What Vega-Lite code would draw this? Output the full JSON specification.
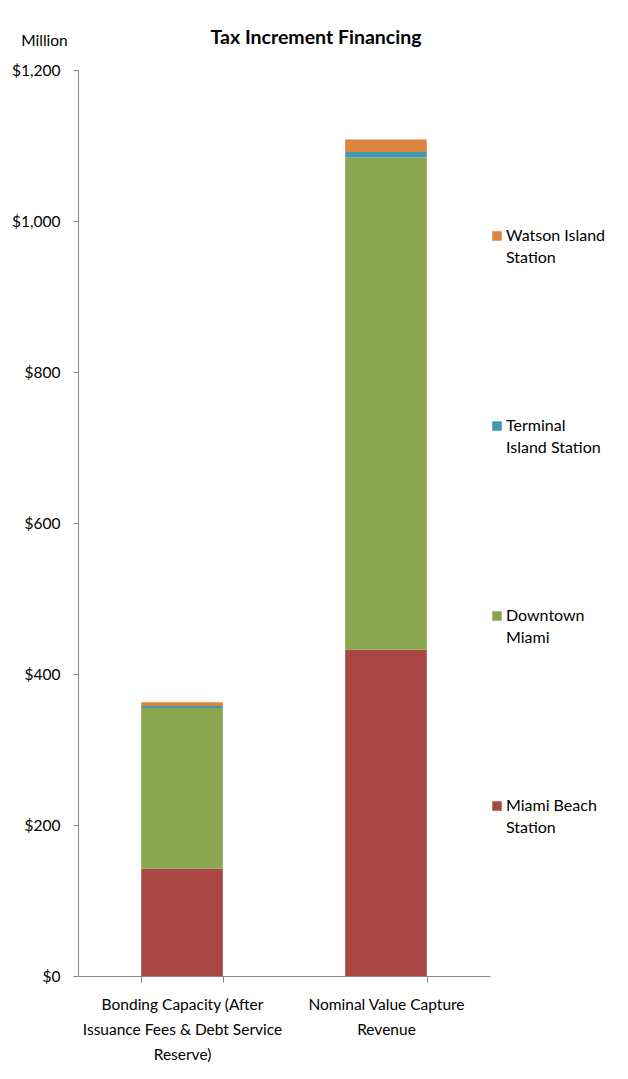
{
  "$schema": "https://vega.github.io/schema/vega-lite/v6.json",
  "autosize": {"type": "none"},
  "padding": {"left": 78, "top": 70, "right": 138, "bottom": 103},
  "width": 412,
  "height": 906,
  "title": {
    "text": "Tax Increment Financing",
    "font": "Lato",
    "fontSize": 19.5,
    "fontWeight": "bold",
    "color": "#000000",
    "anchor": "middle",
    "dx": 32,
    "offset": -15
  },
  "data": {
    "values": [
      {"category": "Bonding Capacity (After Issuance Fees & Debt Service Reserve)", "series": "Miami Beach Station", "k": 1, "value": 142},
      {"category": "Bonding Capacity (After Issuance Fees & Debt Service Reserve)", "series": "Downtown Miami", "k": 2, "value": 213},
      {"category": "Bonding Capacity (After Issuance Fees & Debt Service Reserve)", "series": "Terminal Island Station", "k": 3, "value": 2.7},
      {"category": "Bonding Capacity (After Issuance Fees & Debt Service Reserve)", "series": "Watson Island Station", "k": 4, "value": 4.9},
      {"category": "Nominal Value Capture Revenue", "series": "Miami Beach Station", "k": 1, "value": 432},
      {"category": "Nominal Value Capture Revenue", "series": "Downtown Miami", "k": 2, "value": 652},
      {"category": "Nominal Value Capture Revenue", "series": "Terminal Island Station", "k": 3, "value": 7.5},
      {"category": "Nominal Value Capture Revenue", "series": "Watson Island Station", "k": 4, "value": 16.3}
    ]
  },
  "mark": {"type": "bar", "strokeWidth": 0},
  "encoding": {
    "x": {
      "field": "category",
      "type": "nominal",
      "sort": null,
      "scale": {"paddingInner": 0.6, "paddingOuter": 0.31},
      "axis": {
        "title": null,
        "labelAngle": 0,
        "labelFont": "Lato",
        "labelFontSize": 15.5,
        "labelColor": "#000000",
        "labelLineHeight": 25,
        "labelPadding": 15,
        "labelBaseline": "top",
        "labelLimit": 300,
        "tickBand": "extent",
        "tickSize": 6,
        "tickColor": "#868686",
        "domainColor": "#868686",
        "labelExpr": "datum.extra ? '' : datum.value == 'Nominal Value Capture Revenue' ? ['Nominal Value Capture', 'Revenue'] : ['Bonding Capacity (After', 'Issuance Fees & Debt Service', 'Reserve)']"
      }
    },
    "y": {
      "field": "value",
      "type": "quantitative",
      "stack": "zero",
      "scale": {"domain": [0, 1200]},
      "axis": {
        "values": [0, 200, 400, 600, 800, 1000, 1200],
        "format": "$,.0f",
        "grid": false,
        "labelFont": "Lato",
        "labelFontSize": 15.5,
        "labelColor": "#000000",
        "labelPadding": 13,
        "tickSize": 5,
        "tickColor": "#868686",
        "domainColor": "#868686",
        "title": "Million",
        "titleAngle": 0,
        "titleX": -34,
        "titleY": -30,
        "titleAlign": "center",
        "titleBaseline": "middle",
        "titleFont": "Lato",
        "titleFontSize": 15.5,
        "titleFontWeight": "normal",
        "titleColor": "#000000"
      }
    },
    "color": {
      "field": "series",
      "type": "nominal",
      "scale": {
        "domain": ["Watson Island Station", "Terminal Island Station", "Downtown Miami", "Miami Beach Station"],
        "range": ["#DB843D", "#4198AF", "#89A54E", "#AA4643"]
      },
      "legend": {
        "title": null,
        "orient": "none",
        "legendX": 411,
        "legendY": 158,
        "symbolType": "square",
        "symbolSize": 90,
        "symbolStrokeWidth": 0,
        "labelFont": "Lato",
        "labelFontSize": 16,
        "labelColor": "#000000",
        "labelBaseline": "middle",
        "labelOffset": 1,
        "labelLimit": 200,
        "rowPadding": 152,
        "labelExpr": "datum.label == 'Watson Island Station' ? ['\u2004Watson Island', 'Station'] : datum.label == 'Terminal Island Station' ? ['\u2004Terminal', 'Island Station'] : datum.label == 'Downtown Miami' ? ['\u2004Downtown', 'Miami'] : ['\u2004Miami Beach', 'Station']"
      }
    },
    "order": {"field": "k", "type": "quantitative"}
  },
  "config": {
    "view": {"stroke": null},
    "style": {"guide-label": {"lineHeight": 22}}
  }
}
